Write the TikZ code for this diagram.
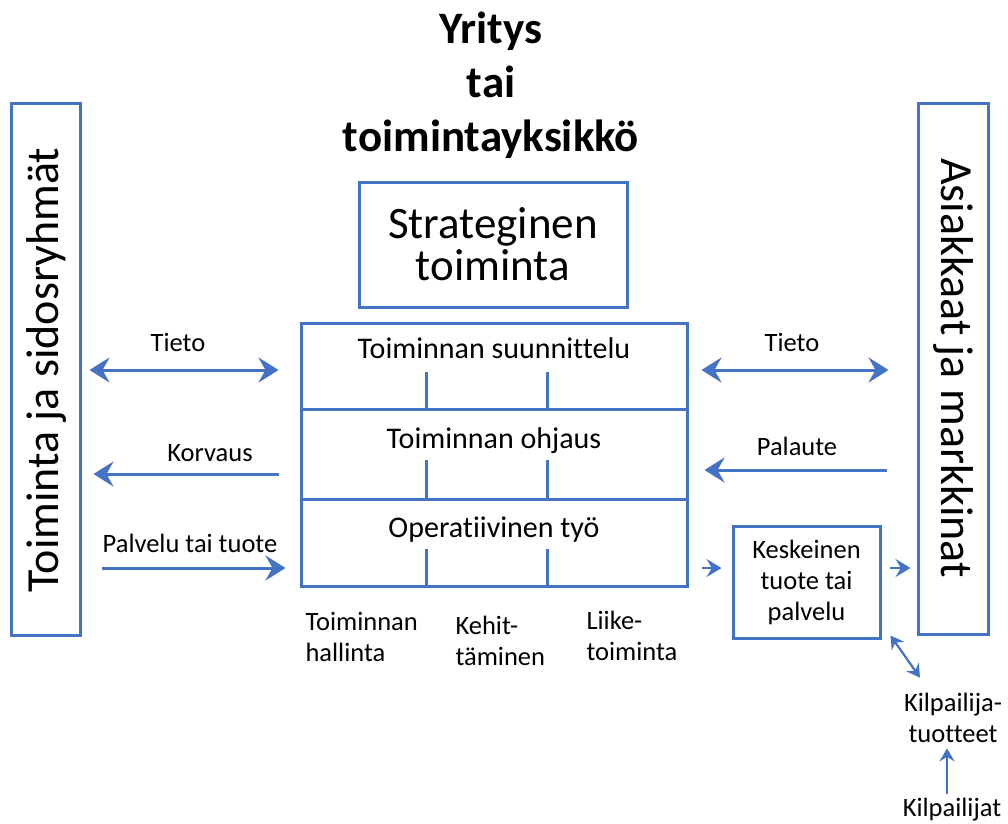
\documentclass[tikz,border=0pt]{standalone}
\usepackage{fontspec}
\setmainfont{Carlito}[Ligatures=NoCommon]
\usetikzlibrary{arrows.meta,calc}
\definecolor{ublue}{HTML}{4472C4}
\begin{document}
\begin{tikzpicture}[x=1pt,y=-1pt,
  box/.style={draw=ublue,line width=3pt,inner sep=0pt},
  titlefont/.style={font=\fontsize{45}{54}\selectfont\bfseries},
  bigfont/.style={font=\fontsize{46}{50}\selectfont},
  stratfont/.style={font=\fontsize{45}{42}\selectfont},
  midfont/.style={font=\fontsize{30}{34}\selectfont},
  smallfont/.style={font=\fontsize{26.5}{31}\selectfont},
  barrow/.style={draw=ublue,line width=3pt,
    >={Stealth[length=20pt,width=25pt,inset=7pt]}},
  sarrow/.style={draw=ublue,line width=2.8pt,
    >={Stealth[length=15pt,width=18pt,inset=5.5pt]}},
  tarrow/.style={draw=ublue,line width=2.2pt,
    >={Stealth[length=13pt,width=15pt,inset=4.5pt]}},
  tick/.style={draw=ublue,line width=3pt}
]
\useasboundingbox (0,0) rectangle (1008,823);

% title
\node[titlefont,align=center] (title) at (491,85) {Yritys\\tai\\toimintayksikkö};

% side boxes
\node[box,minimum width=69pt,minimum height=532pt] (L) at (45.5,369) {};
\node[box,minimum width=70pt,minimum height=531pt] (R) at (953,368.5) {};
\node[bigfont,rotate=90,anchor=base] (Ltext) at (58,370) {Toiminta ja sidosryhmät};
\node[bigfont,rotate=-90,anchor=base] (Rtext) at (941,368) {Asiakkaat ja markkinat};

% strategic level
\node[box,stratfont,align=center,minimum width=268pt,minimum height=125pt] (S) at (493,244.5) {Strateginen\\toiminta};

% three operational rows
\node[box,minimum width=386pt,minimum height=86pt] (r1) at (494,366) {};
\node[box,minimum width=386pt,minimum height=90pt] (r2) at (494,454) {};
\node[box,minimum width=386pt,minimum height=87pt] (r3) at (494,542.5) {};
\node[midfont,anchor=base] (t1) at (494,358) {Toiminnan suunnittelu};
\node[midfont,anchor=base] (t2) at (494,448) {Toiminnan ohjaus};
\node[midfont,anchor=base] (t3) at (494,537) {Operatiivinen työ};

% column ticks
\foreach \r/\h in {r1/39,r2/41,r3/39}{
  \draw[tick] (\r.south -| 426,0) -- ++(0,-\h);
  \draw[tick] (\r.south -| 547,0) -- ++(0,-\h);
}

% column labels
\node[smallfont,align=left,anchor=base west] (c1) at (302,661) {Toiminnan\\hallinta};
\node[smallfont,align=left,anchor=base west] (c2) at (452,665) {Kehit-\\täminen};
\node[smallfont,align=left,anchor=base west] (c3) at (583,660) {Liike-\\toiminta};

% product box and competitors
\node[box,smallfont,align=center,minimum width=147pt,minimum height=112pt] (K) at (806.5,582) {Keskeinen\\tuote tai\\palvelu};
\node[smallfont,align=center] (KT) at (953,718) {Kilpailija-\\tuotteet};
\node[smallfont,anchor=base] (KP) at (952,816) {Kilpailijat};

% left side flows
\draw[barrow,<->] ([xshift=8pt]L.east |- 0,370) -- ([xshift=-21pt]r1.west |- 0,370);
\node[smallfont,anchor=base] (lt) at (178,351) {Tieto};
\draw[barrow,->] ([xshift=-21pt]r2.west |- 0,474) -- ([xshift=12pt]L.east |- 0,474);
\node[smallfont,anchor=base] (lk) at (210,461) {Korvaus};
\draw[barrow,->] ([xshift=20pt]L.east |- 0,568) -- ([xshift=-14pt]r3.west |- 0,568);
\node[smallfont,anchor=base] (lp) at (190,552) {Palvelu tai tuote};

% right side flows
\draw[barrow,<->] ([xshift=13pt]r1.east |- 0,370) -- ([xshift=-28pt]R.west |- 0,370);
\node[smallfont,anchor=base] (rt) at (792,351) {Tieto};
\draw[barrow,->] ([xshift=-30pt]R.west |- 0,470) -- ([xshift=16pt]r2.east |- 0,470);
\node[smallfont,anchor=base] (rp) at (797,455) {Palaute};

% product flows
\draw[sarrow,->] ([xshift=13pt]r3.east |- 0,568) -- ([xshift=-10pt]K.west |- 0,568);
\draw[sarrow,->] ([xshift=8pt]K.east |- 0,568) -- ([xshift=-6pt]R.west |- 0,568);
\draw[tarrow,<->] ([shift={(9pt,4pt)}]K.south east) -- ([shift={(-33pt,12pt)}]KT.north);
\draw[tarrow,->] ([xshift=-5pt]KP.north) -- ([xshift=-6pt,yshift=-2pt]KT.south);
\end{tikzpicture}
\end{document}
